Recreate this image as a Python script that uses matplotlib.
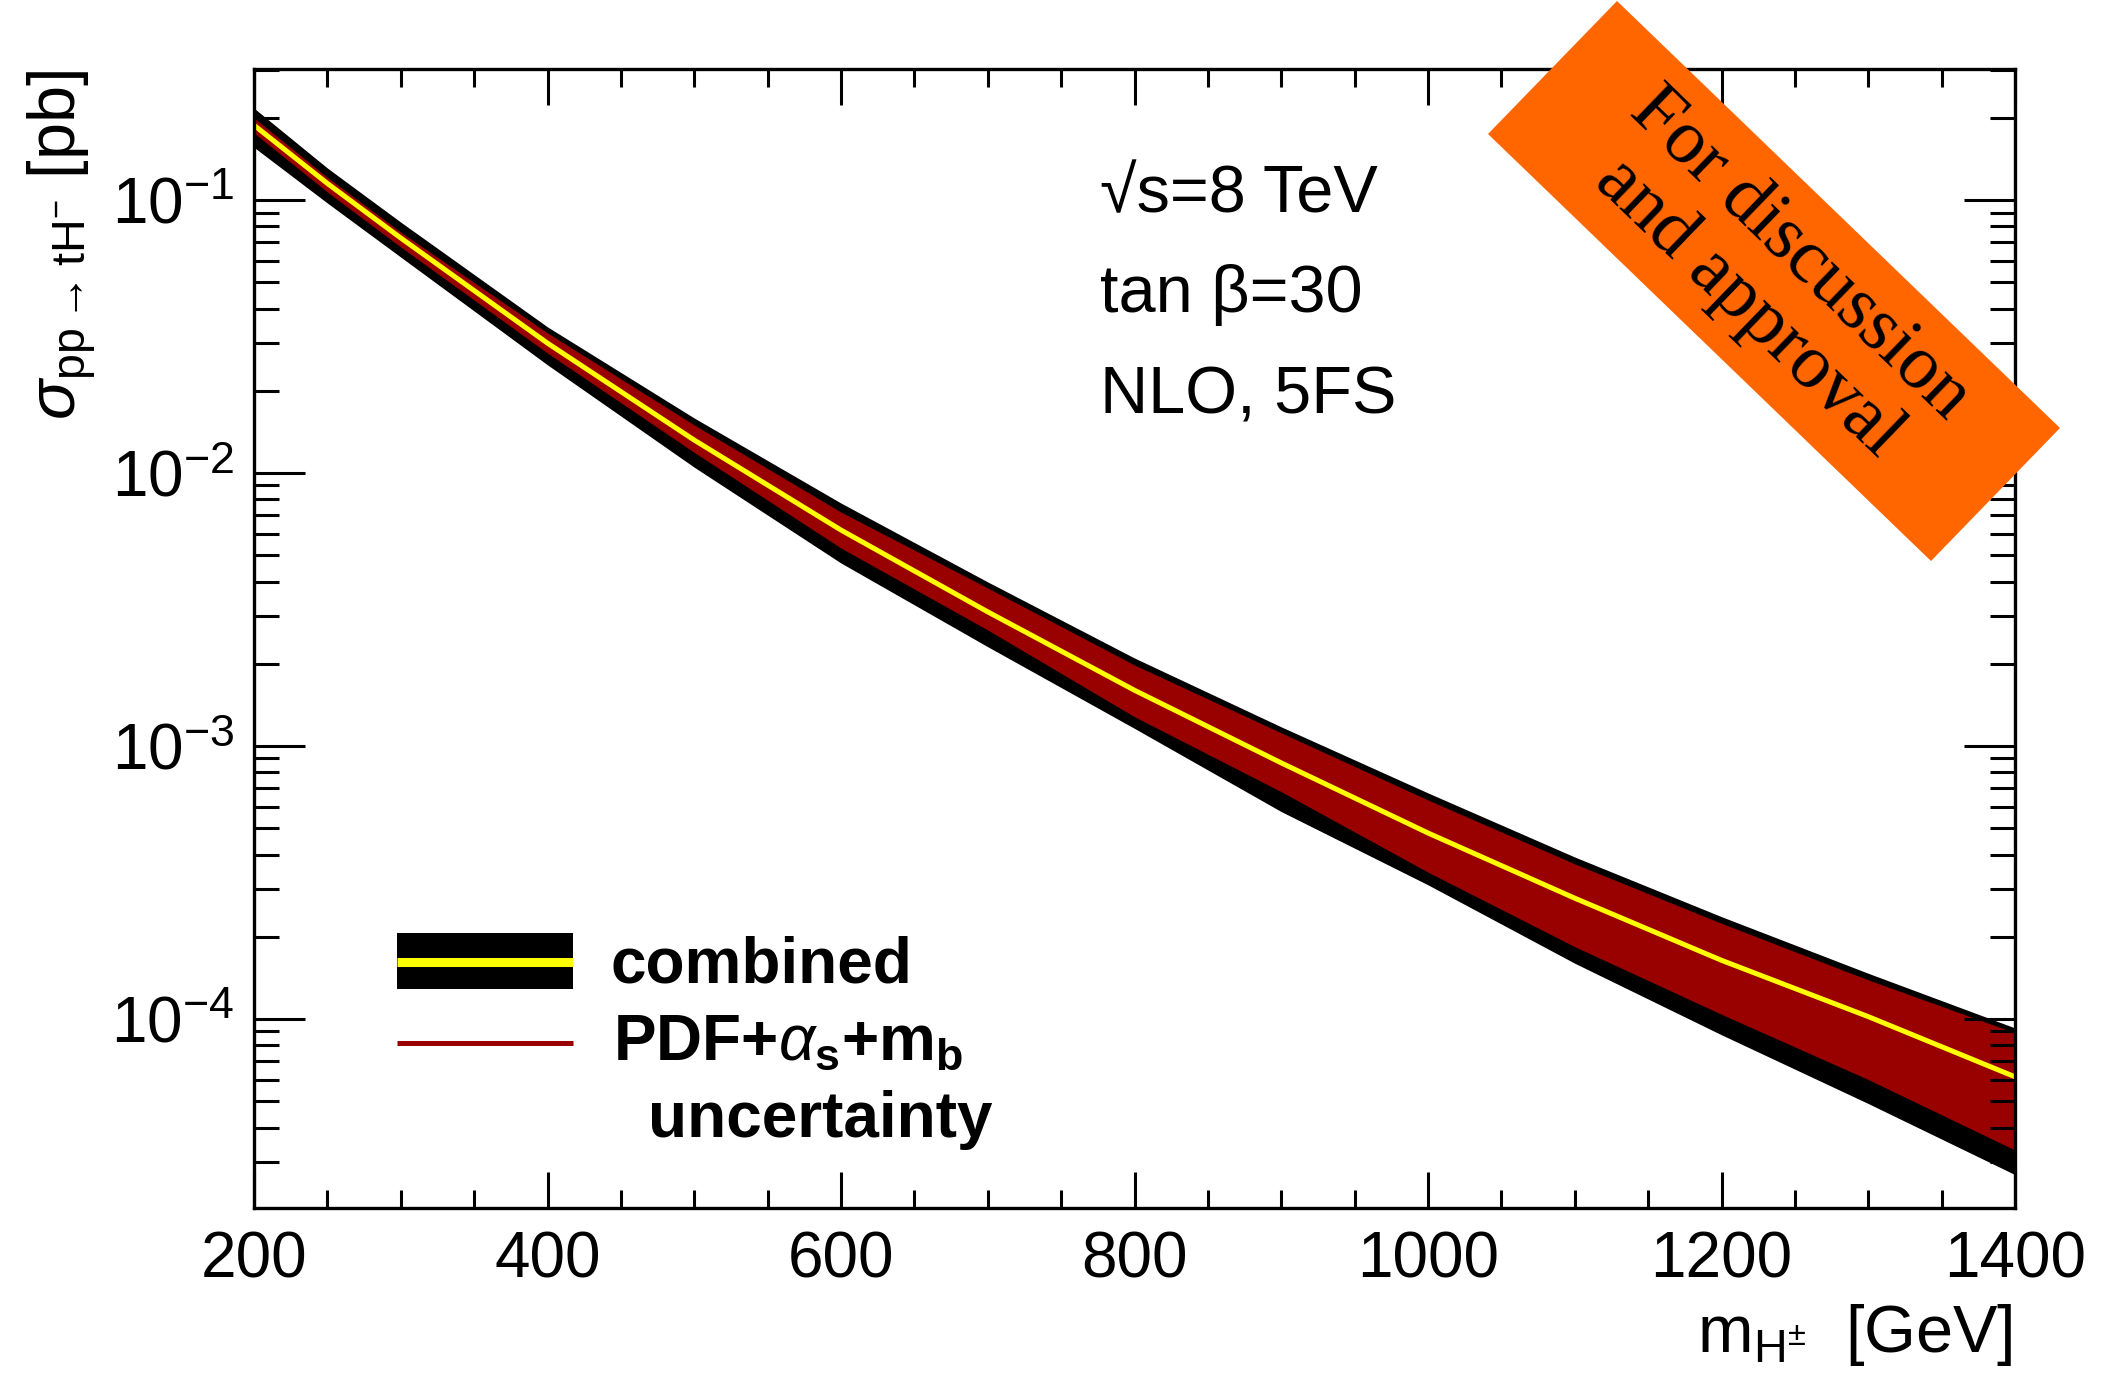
import matplotlib
matplotlib.use("Agg")
import matplotlib.pyplot as plt
from matplotlib.patches import Polygon, Rectangle
from matplotlib.lines import Line2D
from matplotlib.ticker import MultipleLocator, LogLocator, NullFormatter

# Valores (masa en GeV, seccion eficaz en pb)
mass = [200, 250, 300, 400, 500, 600, 700, 800, 900, 1000, 1100, 1200, 1300, 1400]
central = [0.188, 0.115, 0.0726, 0.0299, 0.0132, 6.18e-3, 3.10e-3, 1.60e-3,
           8.67e-4, 4.80e-4, 2.77e-4, 1.64e-4, 1.02e-4, 6.14e-5]
comb_up = [0.217, 0.131, 0.083, 0.0343, 0.0159, 7.76e-3, 3.99e-3, 2.10e-3,
           1.175e-3, 6.73e-4, 3.92e-4, 2.37e-4, 1.47e-4, 9.27e-5]
comb_dn = [0.156, 0.0975, 0.0618, 0.0249, 0.0105, 4.68e-3, 2.31e-3, 1.16e-3,
           5.75e-4, 3.10e-4, 1.60e-4, 8.75e-5, 4.90e-5, 2.69e-5]
pdf_up = [0.200, 0.121, 0.0763, 0.0326, 0.0150, 7.19e-3, 3.79e-3, 1.98e-3,
          1.117e-3, 6.34e-4, 3.70e-4, 2.24e-4, 1.39e-4, 8.9e-5]
pdf_dn = [0.176, 0.107, 0.0673, 0.0275, 0.0119, 5.31e-3, 2.66e-3, 1.28e-3,
          6.80e-4, 3.45e-4, 1.84e-4, 1.04e-4, 6.00e-5, 3.31e-5]

info_lines = ["√s=8 TeV", "tan β=30", "NLO, 5FS"]

plt.rcParams['font.family'] = ['Liberation Sans', 'DejaVu Sans']
plt.rcParams['mathtext.fontset'] = 'custom'
plt.rcParams['mathtext.rm'] = 'Liberation Sans'
plt.rcParams['mathtext.it'] = 'Liberation Sans:italic'
plt.rcParams['mathtext.bf'] = 'Liberation Sans:bold'

W, H = 2101, 1378
fig = plt.figure(figsize=(W / 100, H / 100), dpi=100)
ax = fig.add_axes([254 / W, 1 - 1208 / H, 1761 / W, 1139 / H])

red = '#990000'
ax.fill_between(mass, comb_dn, comb_up, color='black', lw=0)
ax.fill_between(mass, pdf_dn, pdf_up, color=red, lw=0)
ax.plot(mass, central, color='#ffff00', lw=3.6)

ax.set_yscale('log')
ax.set_xlim(200, 1400)
ax.set_ylim(2.03e-5, 0.302)

ax.xaxis.set_major_locator(MultipleLocator(200))
ax.xaxis.set_minor_locator(MultipleLocator(50))
ax.yaxis.set_major_locator(LogLocator(base=10))
ax.yaxis.set_minor_locator(LogLocator(base=10, subs=range(2, 10), numticks=20))
ax.yaxis.set_minor_formatter(NullFormatter())

ax.tick_params(which='both', direction='in', top=True, right=True, width=2.2,
               labelsize=46, colors='black')
ax.tick_params(axis='x', which='major', length=26, pad=16)
ax.tick_params(axis='x', which='minor', length=13)
ax.tick_params(axis='y', which='major', length=37, pad=14)
ax.tick_params(axis='y', which='minor', length=18)
for s in ax.spines.values():
    s.set_linewidth(2.4)

# textos de informacion
for i, t in enumerate(info_lines):
    ax.text((1100 - 254) / 1761, (1208 - (212 + 100.5 * i)) / 1139, t,
            transform=ax.transAxes, fontsize=48, ha='left', va='baseline')

# leyenda dibujada a mano
ax.add_patch(Rectangle((0.0813, 0.192), 0.0999, 0.0495, transform=ax.transAxes,
                       color='black', lw=0))
ax.add_line(Line2D([0.0813, 0.1812], [0.216, 0.216], transform=ax.transAxes,
                   color='#ffff00', lw=6.5, solid_capstyle='butt'))
ax.add_line(Line2D([0.0813, 0.1812], [0.145, 0.145], transform=ax.transAxes,
                   color=red, lw=3.6, solid_capstyle='butt'))
ax.text(0.2027, 0.1984, 'combined', transform=ax.transAxes, fontsize=46,
        fontweight='bold', va='baseline')
ax.text(0.2040, 0.130, r'PDF+$\alpha_{\mathbf{s}}$+m$_{\mathbf{b}}$',
        transform=ax.transAxes, fontsize=46, fontweight='bold', va='baseline')
ax.text(0.2237, 0.0623, 'uncertainty', transform=ax.transAxes, fontsize=46,
        fontweight='bold', va='baseline')

# titulos de los ejes
fig.text(2013 / W, 1 - 1352 / H, r'm$_{\mathrm{H}^{\pm}}$  [GeV]', fontsize=48,
         ha='right', va='baseline')
fig.text(76 / W, 1 - 70 / H, r'$\sigma_{\mathrm{pp}\rightarrow\mathrm{tH}^{-}}$ [pb]',
         fontsize=48, rotation=90, rotation_mode='anchor', ha='right', va='baseline')

# sello naranja
corners = [(1617, 1), (1488, 134), (1931, 561), (2060, 428)]
fig.patches.append(Polygon([(x / W, 1 - y / H) for x, y in corners], closed=True,
                           transform=fig.transFigure, facecolor='#ff6600',
                           edgecolor='none', zorder=5))
fig.text(1774 / W, 1 - 281 / H, 'For discussion\nand approval', fontsize=55,
         family=['Liberation Serif', 'DejaVu Serif'], rotation=-44,
         rotation_mode='anchor', ha='center', va='center', linespacing=1.1,
         multialignment='center', zorder=6)

fig.savefig('out.png', dpi=100)
